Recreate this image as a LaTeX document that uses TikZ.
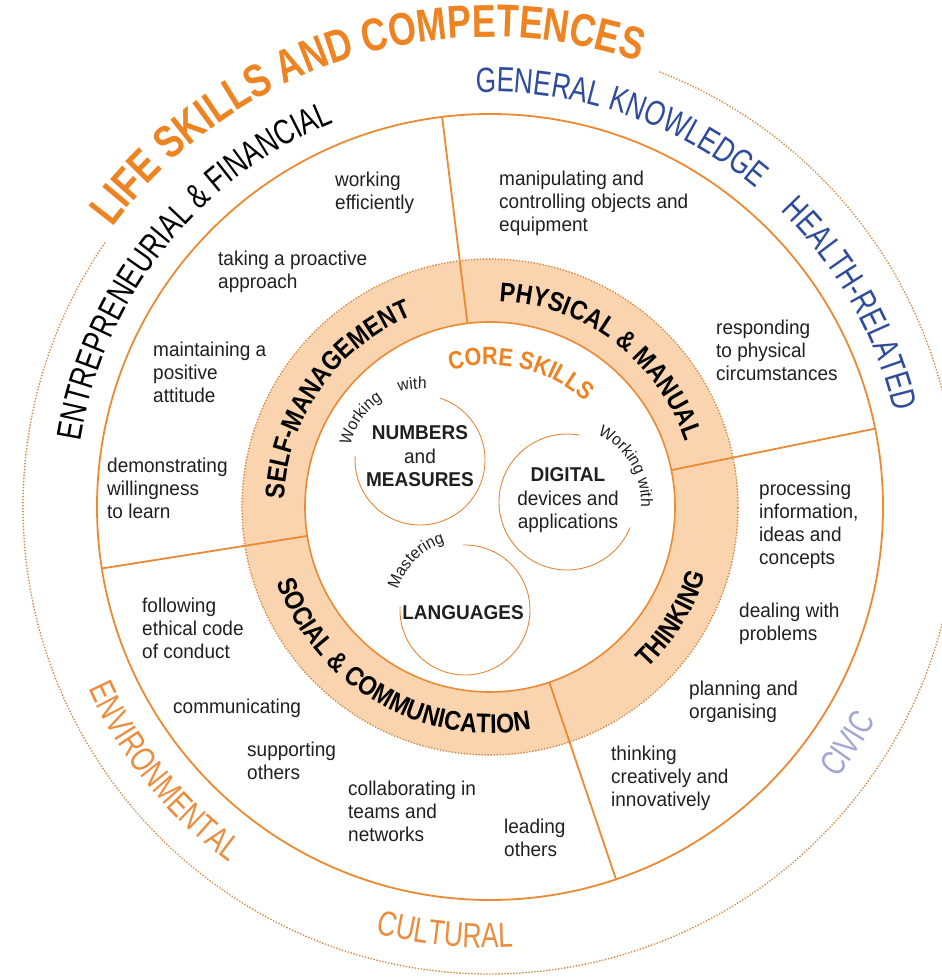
\documentclass[tikz,border=0pt]{standalone}
\usepackage{fontspec}
\setmainfont{Liberation Sans}
\newfontfamily\skillf{Liberation Sans}[FakeStretch=0.95]
\newfontfamily\catf{Liberation Sans}[FakeStretch=0.75]
\newfontfamily\bandf{Liberation Sans}[FakeStretch=0.86]
\newfontfamily\titlef{Liberation Sans}[FakeStretch=0.78]
\usetikzlibrary{decorations.text}
\definecolor{lor}{HTML}{EC8A33}
\definecolor{bandc}{HTML}{F9D4AE}
\definecolor{ttl}{HTML}{EE8322}
\definecolor{gblue}{HTML}{2F4B9B}
\definecolor{civ}{HTML}{A0A7D3}
\definecolor{envc}{HTML}{EC8D3E}
\definecolor{txt}{HTML}{202020}
\definecolor{dotc}{HTML}{D58A48}
\newcommand\arcCW[5]{\path[decorate,decoration={text along path,text align=center,text={|#4|#5}}] ({#1+#3}:#2) arc[start angle={#1+#3}, end angle={#1-#3}, radius=#2];}
\newcommand\arcCCW[5]{\path[decorate,decoration={text along path,text align=center,text={|#4|#5}}] ({#1-#3}:#2) arc[start angle={#1-#3}, end angle={#1+#3}, radius=#2];}
\tikzset{
  skill/.style={font=\skillf\fontsize{20}{23}\selectfont, align=left, inner sep=0pt, anchor=north west, text=txt},
  core/.style={font=\skillf\fontsize{20}{23.5}\selectfont, align=center, inner sep=0pt, anchor=north, text=txt},
  dotline/.style={dotc, line width=1.9pt, line cap=round, dash pattern=on 0pt off 3pt},
  mainline/.style={lor, line width=1.8pt},
  divider/.style={lor, line width=1.8pt},
  smallcirc/.style={lor!80!brown, line width=0.9pt}
}
\begin{document}
\begin{tikzpicture}[x=1pt,y=1pt]
\useasboundingbox (0,0) rectangle (942,977);
\fill[white] (0,0) rectangle (942,977);
\begin{scope}[shift={(490,470)}]
  \coordinate (C) at (0,0);
  % band
  \fill[bandc, even odd rule] (C) circle[radius=248pt] (C) circle[radius=185pt];
  \draw[dotline] (C) circle[radius=248pt];
  \draw[mainline, line width=1.6pt] (C) circle[radius=185pt];
  % main circle
  \draw[mainline] (C) circle[radius=393pt];
  % outer dotted arc
  \draw[dotline] (145.6:467pt) arc[start angle=145.6, end angle=429, radius=467pt];
  % dividers
  \foreach \a/\n in {97/d1, 189/d2, 11.5/d3, -71.3/d4}{
    \coordinate (\n a) at (\a:185pt);
    \coordinate (\n b) at (\a:393pt);
    \draw[divider] (\n a) -- (\n b);
  }
  % title
  \arcCW{107.5}{470pt}{65}{\titlef\bfseries\fontsize{46}{50}\selectfont\color{ttl}}{LIFE SKILLS AND COMPETENCES}
  % categories
  \arcCW{141.5}{415pt}{60}{\catf\fontsize{35}{40}\selectfont\color{black}}{ENTREPRENEURIAL {\&} FINANCIAL}
  \arcCW{71}{415pt}{40}{\catf\fontsize{35}{40}\selectfont\color{gblue}}{GENERAL KNOWLEDGE}
  \arcCW{29.4}{415pt}{30}{\catf\fontsize{35}{40}\selectfont\color{gblue}}{HEALTH-RELATED}
  \arcCCW{-33.5}{441pt}{20}{\catf\fontsize{35}{40}\selectfont\color{civ}}{CIVIC}
  \arcCCW{264}{441pt}{25}{\catf\fontsize{35}{40}\selectfont\color{envc}}{CULTURAL}
  \arcCCW{219}{441pt}{30}{\catf\fontsize{35}{40}\selectfont\color{envc}}{ENVIRONMENTAL}
  % band labels
  \arcCW{145}{206pt}{60}{\bandf\bfseries\fontsize{27}{30}\selectfont\color{black}}{SELF-MANAGEMENT}
  \arcCW{53}{206pt}{60}{\bandf\bfseries\fontsize{27}{30}\selectfont\color{black}}{PHYSICAL {\&} MANUAL}
  \arcCCW{-31.5}{226pt}{40}{\bandf\bfseries\fontsize{27}{30}\selectfont\color{black}}{THINKING}
  \arcCCW{240}{226pt}{60}{\bandf\bfseries\fontsize{27}{30}\selectfont\color{black}}{SOCIAL {\&} COMMUNICATION}
  % core skills
  \arcCW{77}{142pt}{60}{\bandf\bfseries\fontsize{25}{29}\selectfont\color{ttl}}{CORE SKILLS}
\end{scope}
% small circles
\begin{scope}[shift={(420,517)}]
  \draw[smallcirc] (72:65pt) arc[start angle=72, end angle=-183, radius=65pt];
  \arcCW{145}{71pt}{40}{\skillf\fontsize{16.5}{19}\selectfont\color{txt}}{Working}
  \arcCW{96}{71pt}{30}{\skillf\fontsize{16.5}{19}\selectfont\color{txt}}{with}
\end{scope}
\begin{scope}[shift={(567,475)}]
  \draw[smallcirc] (-22:68pt) arc[start angle=-22, end angle=-280.5, radius=68pt];
  \arcCW{31}{74pt}{55}{\skillf\fontsize{16.5}{19}\selectfont\color{txt}}{Working with}
\end{scope}
\begin{scope}[shift={(465,367)}]
  \draw[smallcirc] (177:65pt) arc[start angle=177, end angle=452, radius=65pt];
  \arcCW{135}{70pt}{45}{\skillf\fontsize{16.5}{19}\selectfont\color{txt}}{Mastering}
\end{scope}
% core texts
\node[core] (numbers) at (420,551.5) {\bfseries NUMBERS\\and\\\bfseries MEASURES};
\node[core] (digital) at (568,509.5) {\bfseries DIGITAL\\devices and\\applications};
\node[core] (languages) at (463,371.5) {\bfseries LANGUAGES};
% skills
\node[skill] (s1) at (335,805.5) {working\\efficiently};
\node[skill] (s2) at (218,726.5) {taking a proactive\\approach};
\node[skill] (s3) at (153,635.5) {maintaining a\\positive\\attitude};
\node[skill] (s4) at (107,519.5) {demonstrating\\willingness\\to learn};
\node[skill] (s5) at (142,379.5) {following\\ethical code\\of conduct};
\node[skill] (s6) at (173,278.5) {communicating};
\node[skill] (s7) at (247,235.5) {supporting\\others};
\node[skill] (s8) at (348,196.5) {collaborating in\\teams and\\networks};
\node[skill] (s9) at (504,158.5) {leading\\others};
\node[skill] (s10) at (611,231.5) {thinking\\creatively and\\innovatively};
\node[skill] (s11) at (689,296.5) {planning and\\organising};
\node[skill] (s12) at (739,374.5) {dealing with\\problems};
\node[skill] (s13) at (759,496.5) {processing\\information,\\ideas and\\concepts};
\node[skill] (s14) at (716,657.5) {responding\\to physical\\circumstances};
\node[skill] (s15) at (499,806.5) {manipulating and\\controlling objects and\\equipment};
\end{tikzpicture}
\end{document}
